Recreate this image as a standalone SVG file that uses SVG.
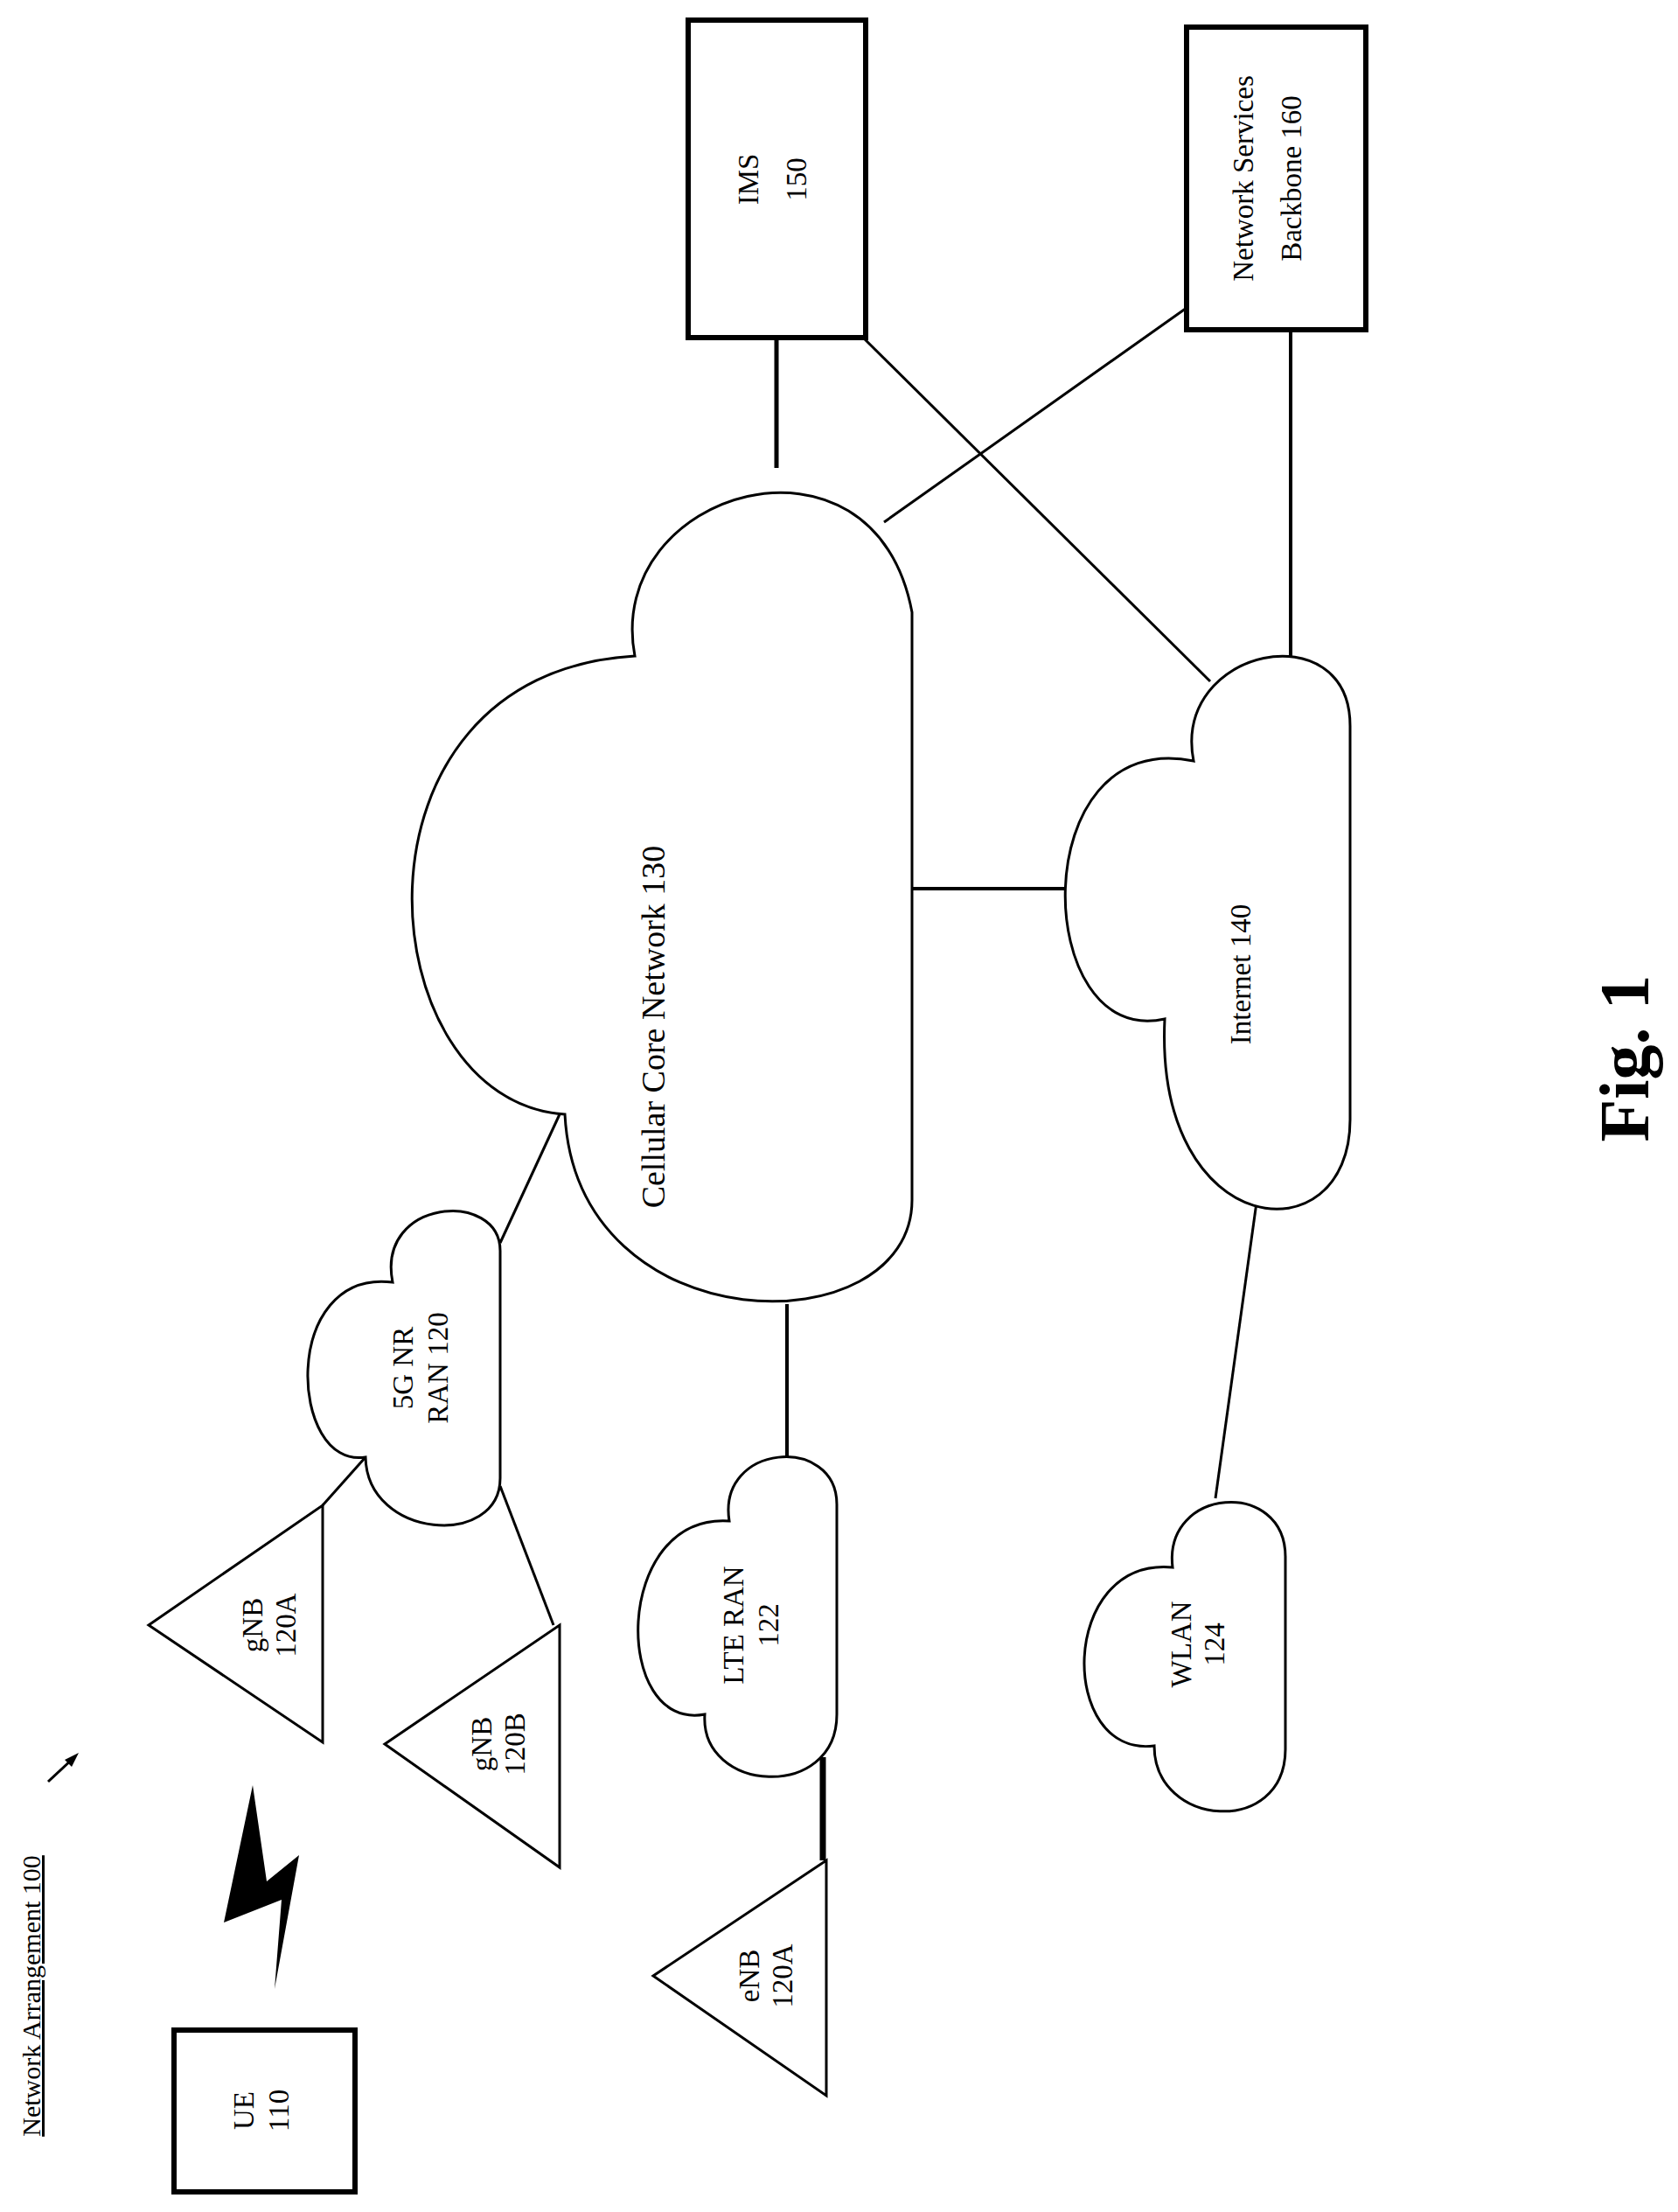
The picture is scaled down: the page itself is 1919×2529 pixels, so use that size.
<svg xmlns="http://www.w3.org/2000/svg" width="1919" height="2529" viewBox="0 0 1919 2529">
<style>
.s{fill:#fff;stroke:#000;stroke-width:3}
.b{fill:#fff;stroke:#000;stroke-width:6}
.l{stroke:#000;stroke-width:3;fill:none}
.t{font-family:"Liberation Serif",serif;font-size:33px;text-anchor:middle;fill:#000}
</style>
<rect width="1919" height="2529" fill="#fff"/>
<g id="connectors">
<line class="l" x1="888" y1="386" x2="888" y2="535" style="stroke-width:5"/>
<line class="l" x1="984" y1="383" x2="1384" y2="779"/>
<line class="l" x1="1357" y1="352" x2="1011" y2="597"/>
<line class="l" x1="1476" y1="377" x2="1476" y2="750" style="stroke-width:4"/>
<line class="l" x1="1043" y1="1016" x2="1222" y2="1016" style="stroke-width:4"/>
<line class="l" x1="572" y1="1421" x2="640" y2="1274"/>
<line class="l" x1="369" y1="1721" x2="418" y2="1666"/>
<line class="l" x1="572" y1="1699" x2="633" y2="1858"/>
<line class="l" x1="900" y1="1491" x2="900" y2="1672" style="stroke-width:4"/>
<line class="l" x1="941" y1="2009" x2="941" y2="2127" style="stroke-width:7"/>
<line class="l" x1="1451" y1="1274" x2="1390" y2="1713"/>
</g>
<g id="ims"><rect class="b" x="787" y="23" width="203" height="363"/>
<text class="t" transform="translate(867,205) rotate(-90)">IMS</text>
<text class="t" transform="translate(922,205) rotate(-90)">150</text></g>
<g id="nsb"><rect class="b" x="1357" y="31" width="205" height="346"/>
<text class="t" transform="translate(1433,204) rotate(-90)">Network Services</text>
<text class="t" transform="translate(1488,204) rotate(-90)">Backbone 160</text></g>
<g id="core"><path class="s" d="M726,750 C690,560 1000,470 1043,700 L1043,1372 C1043,1540 660,1540 646,1274 C420,1260 380,770 726,750 Z"/>
<text class="t" style="font-size:38px" transform="translate(760,1174) rotate(-90)">Cellular Core Network 130</text></g>
<g id="internet"><path class="s" d="M1365,870 C1340,740 1544,700 1544,830 L1544,1280 C1544,1440 1320,1420 1332,1165 C1180,1200 1170,830 1365,870 Z"/>
<text class="t" transform="translate(1430,1114) rotate(-90)">Internet 140</text></g>
<g id="ran5g"><path class="s" d="M449,1466 C430,1370 572,1360 572,1430 L572,1690 C572,1770 420,1760 418,1666 C330,1680 320,1450 449,1466 Z"/>
<text class="t" transform="translate(472,1564) rotate(-90)">5G NR</text>
<text class="t" transform="translate(512,1564) rotate(-90)">RAN 120</text></g>
<g id="lte"><path class="s" d="M834,1739 C820,1650 957,1640 957,1720 L957,1960 C957,2060 800,2050 806,1960 C700,1980 700,1730 834,1739 Z"/>
<text class="t" transform="translate(850,1858) rotate(-90)">LTE RAN</text>
<text class="t" transform="translate(890,1858) rotate(-90)">122</text></g>
<g id="wlan"><path class="s" d="M1341,1792 C1330,1700 1470,1690 1470,1780 L1470,2000 C1470,2100 1320,2090 1320,1996 C1210,2010 1210,1780 1341,1792 Z"/>
<text class="t" transform="translate(1362,1880) rotate(-90)">WLAN</text>
<text class="t" transform="translate(1400,1880) rotate(-90)">124</text></g>
<g id="gnbA"><polygon class="s" points="170,1858 369,1721 369,1992"/>
<text class="t" transform="translate(300,1858) rotate(-90)">gNB</text>
<text class="t" transform="translate(338,1858) rotate(-90)">120A</text></g>
<g id="gnbB"><polygon class="s" points="440,1994 640,1858 640,2135"/>
<text class="t" transform="translate(562,1994) rotate(-90)">gNB</text>
<text class="t" transform="translate(600,1994) rotate(-90)">120B</text></g>
<g id="enb"><polygon class="s" points="747,2259 945,2127 945,2396"/>
<text class="t" transform="translate(868,2259) rotate(-90)">eNB</text>
<text class="t" transform="translate(906,2259) rotate(-90)">120A</text></g>
<g id="ue"><rect class="b" x="199" y="2321" width="207" height="185"/>
<text class="t" transform="translate(290,2413) rotate(-90)">UE</text>
<text class="t" transform="translate(330,2413) rotate(-90)">110</text></g>
<g id="bolt"><polygon fill="#000" points="289,2041 305,2151 342,2121 314,2274 322,2172 256,2198"/></g>
<g id="title">
<text class="t" style="text-decoration:underline;font-size:30px" transform="translate(46,2282) rotate(-90)">Network Arrangement 100</text>
<line class="l" x1="55" y1="2037" x2="84" y2="2010"/>
<polygon points="90,2004 74,2012 82,2020" fill="#000"/>
</g>
<text class="t" style="font-size:80px;font-weight:bold" transform="translate(1885,1210) rotate(-90)">Fig. 1</text>
</svg>
